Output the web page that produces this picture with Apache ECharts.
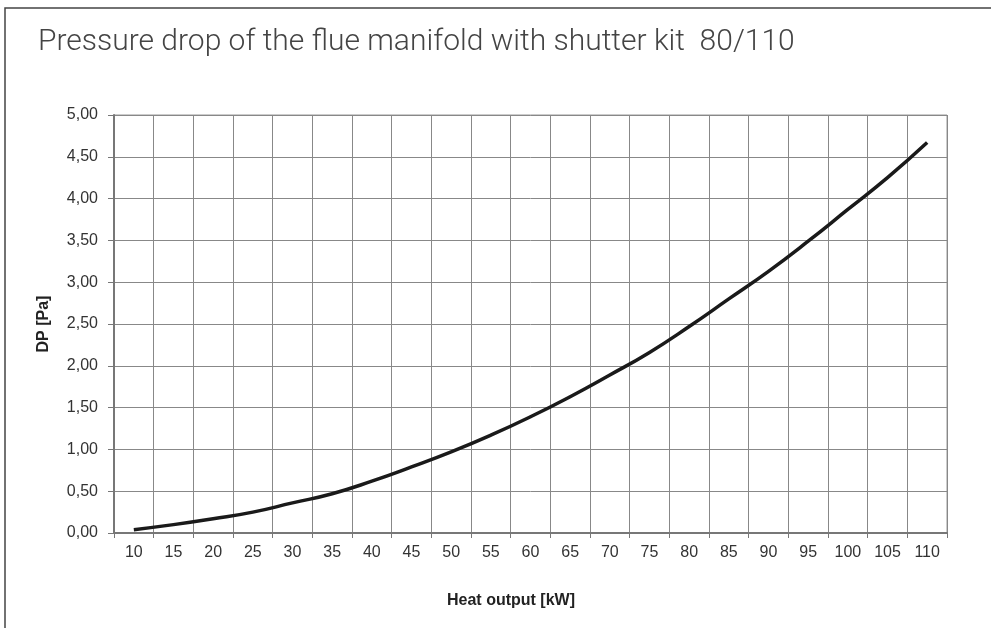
<!DOCTYPE html>
<html>
<head>
<meta charset="utf-8">
<script src="https://cdn.jsdelivr.net/npm/echarts@6/dist/echarts.min.js"></script>
<style>
  html, body { margin: 0; padding: 0; background: #fff; }
  #chart { width: 991px; height: 628px; }
</style>
</head>
<body>
<div id="chart"></div>
<script>
// heat output categories [kW]
const heatOutput = ['10', '15', '20', '25', '30', '35', '40', '45', '50', '55', '60',
  '65', '70', '75', '80', '85', '90', '95', '100', '105', '110'];
// pressure drop [Pa]
const pressureDrop = [0.04, 0.10, 0.17, 0.25, 0.36, 0.47, 0.62, 0.79, 0.97, 1.17, 1.39,
  1.63, 1.89, 2.16, 2.47, 2.80, 3.13, 3.49, 3.87, 4.25, 4.67];

const titleText = 'Pressure drop of the flue manifold with shutter kit  80/110';
const yName = 'DP [Pa]';
const xName = 'Heat output [kW]';

let chart = echarts.init(document.getElementById('chart'));

let option = {
    animation: false,
    title: {
        text: titleText,
        left: 33,
        top: 22,
        textStyle: {
            fontFamily: 'Roboto',
            fontWeight: 300,
            fontSize: 30,
            color: '#444'
        }
    },
    grid: {
        left: 114,
        top: 115,
        right: 44,
        bottom: 95,
        show: true,
        borderColor: '#999',
        borderWidth: 1
    },
    xAxis: {
        type: 'category',
        data: heatOutput,
        boundaryGap: true,
        axisLine: { lineStyle: { color: '#777', width: 2 } },
        axisTick: { show: true, length: 5, interval: 0, lineStyle: { color: '#777' } },
        axisLabel: {
            interval: 0,
            margin: 12,
            fontFamily: 'Arial, Liberation Sans',
            fontSize: 16,
            color: '#333'
        },
        splitLine: { show: true, interval: 0, lineStyle: { color: '#888', width: 1 } }
    },
    yAxis: {
        type: 'value',
        min: 0,
        max: 5,
        interval: 0.5,
        name: yName,
        nameLocation: 'middle',
        nameGap: 62,
        nameTextStyle: {
            fontFamily: 'Arial, Liberation Sans',
            fontWeight: 'bold',
            fontSize: 16,
            color: '#222'
        },
        axisLine: { show: true, lineStyle: { color: '#777', width: 2 } },
        axisTick: { show: true, length: 6, lineStyle: { color: '#777' } },
        axisLabel: {
            margin: 16,
            fontFamily: 'Arial, Liberation Sans',
            fontSize: 16,
            color: '#333',
            formatter: v => v.toFixed(2).replace('.', ',')
        },
        splitLine: { show: true, lineStyle: { color: '#888', width: 1 } }
    },
    graphic: [
        {
            type: 'rect',
            shape: { x: 5, y: 8, width: 1100, height: 800 },
            style: { fill: 'none', stroke: '#444', lineWidth: 1.5 },
            silent: true
        },
        {
            type: 'text',
            left: 447,
            top: 593,
            style: {
                text: xName,
                fontFamily: 'Arial, Liberation Sans',
                fontWeight: 'bold',
                fontSize: 16,
                fill: '#222'
            }
        }
    ],
    series: [
        {
            type: 'line',
            data: pressureDrop,
            smooth: true,
            symbol: 'none',
            lineStyle: { color: '#1a1a1a', width: 3.5 }
        }
    ]
};
chart.setOption(option);
</script>
</body>
</html>
